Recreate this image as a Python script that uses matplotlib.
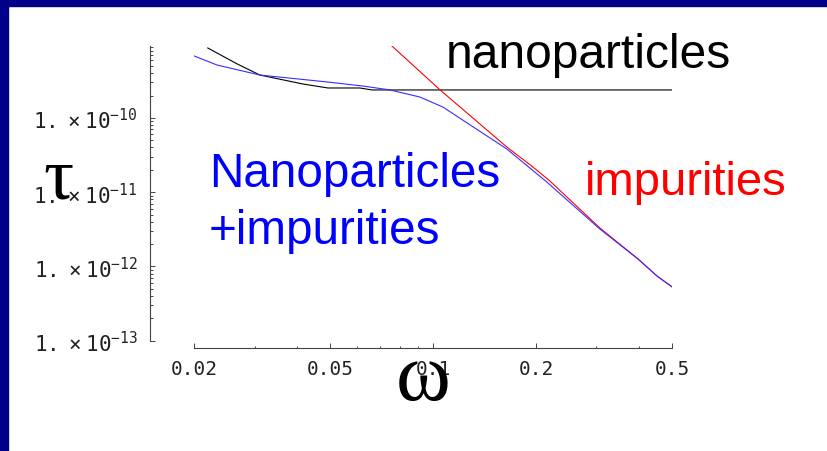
import math
import matplotlib
matplotlib.use("Agg")
import matplotlib.pyplot as plt
from matplotlib.ticker import FixedLocator, FuncFormatter, LogLocator, NullFormatter
from matplotlib.patches import Rectangle

# values
omega_nano = [0.0219, 0.0267, 0.0311, 0.0416, 0.0492, 0.061, 0.0662, 0.1, 0.2, 0.5]
tau_nano = [8.75e-10, 5.33e-10, 3.78e-10, 2.86e-10, 2.53e-10, 2.53e-10, 2.38e-10,
            2.38e-10, 2.38e-10, 2.38e-10]

omega_imp = [0.0757, 0.1047, 0.164, 0.194, 0.219, 0.307, 0.397, 0.451, 0.5]
tau_imp = [9.3e-10, 2.38e-10, 4.06e-11, 2.25e-11, 1.42e-11, 3.3e-12, 1.26e-12,
           7.43e-13, 5.28e-13]

omega_both = [0.02, 0.0233, 0.0311, 0.0489, 0.0622, 0.0747, 0.0914, 0.1067, 0.164,
              0.2148, 0.307, 0.397, 0.451, 0.5]
tau_both = [6.82e-10, 5.16e-10, 3.78e-10, 3.05e-10, 2.69e-10, 2.38e-10, 1.91e-10,
            1.40e-10, 3.82e-11, 1.37e-11, 3.19e-12, 1.26e-12, 7.43e-13, 5.28e-13]

x_ticks = [0.02, 0.05, 0.1, 0.2, 0.5]
x_ticklabels = ["0.02", "0.05", "0.1", "0.2", "0.5"]
y_ticks = [1e-13, 1e-12, 1e-11, 1e-10]

W, H = 827, 452
plt.rcParams['mathtext.fontset'] = 'custom'
plt.rcParams['mathtext.rm'] = 'DejaVu Sans Mono'
plt.rcParams['mathtext.it'] = 'DejaVu Sans Mono'

fig = plt.figure(figsize=(W / 100, H / 100), dpi=100)
fig.patch.set_facecolor('white')

# navy frame at top and left
fig.patches.append(Rectangle((0, 1 - 7 / H), 1, 7 / H, transform=fig.transFigure,
                             color='#000088', zorder=0))
fig.patches.append(Rectangle((0, 0), 8 / W, 1, transform=fig.transFigure,
                             color='#000088', zorder=0))

ax = fig.add_axes([194.3 / W, 1 - 341.7 / H, (672.3 - 194.3) / W, (341.7 - 47) / H])
ax.set_xscale('log')
ax.set_yscale('log')

ax.plot(omega_nano, tau_nano, color='black', lw=0.8)
ax.plot(omega_imp, tau_imp, color='red', lw=0.8)
ax.plot(omega_both, tau_both, color='#3a2cff', lw=0.8)

ax.set_xlim(0.02, 0.5)
ax.set_ylim(1e-13, 9.3e-10)

for s in ['top', 'right']:
    ax.spines[s].set_visible(False)
ax.spines['left'].set_position(('outward', 31.7))
ax.spines['bottom'].set_position(('outward', 5))
for s in ['left', 'bottom']:
    ax.spines[s].set_color('#444444')
    ax.spines[s].set_linewidth(0.8)

ax.xaxis.set_major_locator(FixedLocator(x_ticks))
ax.xaxis.set_major_formatter(FuncFormatter(lambda v, p: x_ticklabels[x_ticks.index(v)] if v in x_ticks else ""))
ax.xaxis.set_minor_locator(LogLocator(base=10, subs=range(2, 10)))
ax.xaxis.set_minor_formatter(NullFormatter())

ax.yaxis.set_major_locator(FixedLocator(y_ticks))
ax.yaxis.set_major_formatter(FuncFormatter(
    lambda v, p: r'$1.\ \times\,10^{%d}$' % round(math.log10(v))))
ax.yaxis.set_minor_locator(LogLocator(base=10, subs=range(2, 10), numticks=20))
ax.yaxis.set_minor_formatter(NullFormatter())

ax.tick_params(which='both', direction='in', color='#444444', width=0.7)
ax.tick_params(which='major', length=3.5)
ax.tick_params(which='minor', length=1.8)
ax.tick_params(axis='x', labelsize=14, pad=8)
ax.tick_params(axis='y', labelsize=15, pad=9)
for lab in ax.get_xticklabels():
    lab.set_family('DejaVu Sans Mono')
    lab.set_color('#222222')
for lab in ax.get_yticklabels():
    lab.set_color('#222222')

def px(x, y):
    return x / W, 1 - y / H

fig.text(*px(58, 181), "τ", family='Liberation Serif', fontsize=54,
         ha='center', va='center')
fig.text(*px(423, 380), "ω", family='Liberation Serif', fontsize=60,
         ha='center', va='center')

fig.text(*px(446, 68), "nanoparticles", family='Liberation Sans', fontsize=34.5,
         color='black', ha='left', va='baseline')
fig.text(*px(585, 195), "impurities", family='Liberation Sans', fontsize=34,
         color='red', ha='left', va='baseline')
fig.text(*px(209, 187), "Nanoparticles", family='Liberation Sans', fontsize=34.3,
         color='blue', ha='left', va='baseline')
fig.text(*px(209, 244), "+impurities", family='Liberation Sans', fontsize=34.3,
         color='blue', ha='left', va='baseline')

fig.savefig('out.png', dpi=100)
